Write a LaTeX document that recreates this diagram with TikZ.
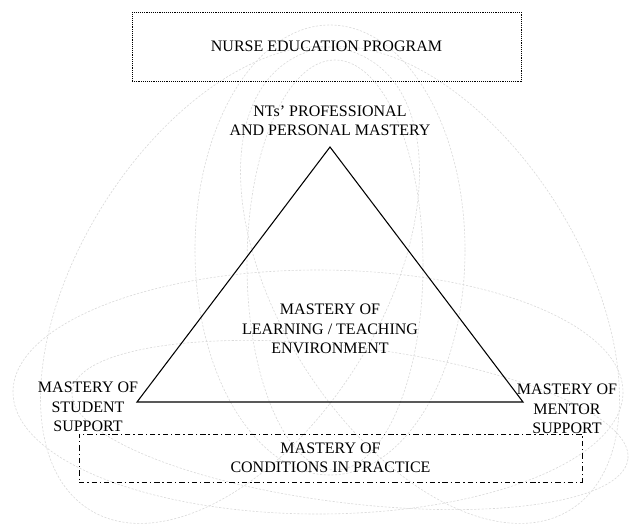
\documentclass[tikz,border=0pt]{standalone}
\usepackage{fontspec}
\setmainfont{Liberation Serif}
\usepackage{tikz}

\tikzset{
  ring/.style={draw=black!15, dash pattern=on 1.6pt off 1.2pt, line width=0.45pt},
  lbl/.style={align=center, inner sep=0pt, font=\fontsize{12}{14.6}\selectfont},
}

\begin{document}
\begin{tikzpicture}[x=0.75pt, y=-0.75pt]
\useasboundingbox (0,0) rectangle (631,525);
% faint rings behind everything
\draw [ring] (318,392) ellipse [x radius=305, y radius=122];
\draw [ring, rotate around={-7:(350,425)}] (350,425) ellipse [x radius=280, y radius=78];
\draw [ring] (330,250) ellipse [x radius=135, y radius=225];
\draw [ring] (335,265) ellipse [x radius=88, y radius=205];
\draw [ring, rotate around={58:(230,285)}] (230,285) ellipse [x radius=265, y radius=150];
\draw [ring, rotate around={-58:(430,285)}] (430,285) ellipse [x radius=265, y radius=150];
% program frame
\node (NEP) [draw, lbl, dash pattern=on 0.7pt off 0.7pt, line width=0.6pt,
  minimum width=291.75pt, minimum height=51.75pt] at (326.5,46.5) {NURSE EDUCATION PROGRAM};
% triangle
\coordinate (T) at (330,147);
\coordinate (L) at (137,402);
\coordinate (R) at (523,402);
\draw [line width=0.8pt] (T) -- (L) -- (R) -- cycle;
\node (NT) [lbl] at (330,121) {NTs' PROFESSIONAL\\AND PERSONAL MASTERY};
\node (LT) [lbl] at (330,329) {MASTERY OF\\LEARNING / TEACHING\\ENVIRONMENT};
\node (SS) [lbl] at (88,407) {MASTERY OF\\STUDENT\\SUPPORT};
\node (MS) [lbl] at (567,409) {MASTERY OF\\MENTOR\\SUPPORT};
% practice frame
\node (CP) [draw, lbl, dash pattern=on 4pt off 2.2pt on 1pt off 2.2pt, line width=0.6pt,
  minimum width=377.25pt, minimum height=36pt] at (330.5,458) {MASTERY OF\\CONDITIONS IN PRACTICE};
\end{tikzpicture}
\end{document}
